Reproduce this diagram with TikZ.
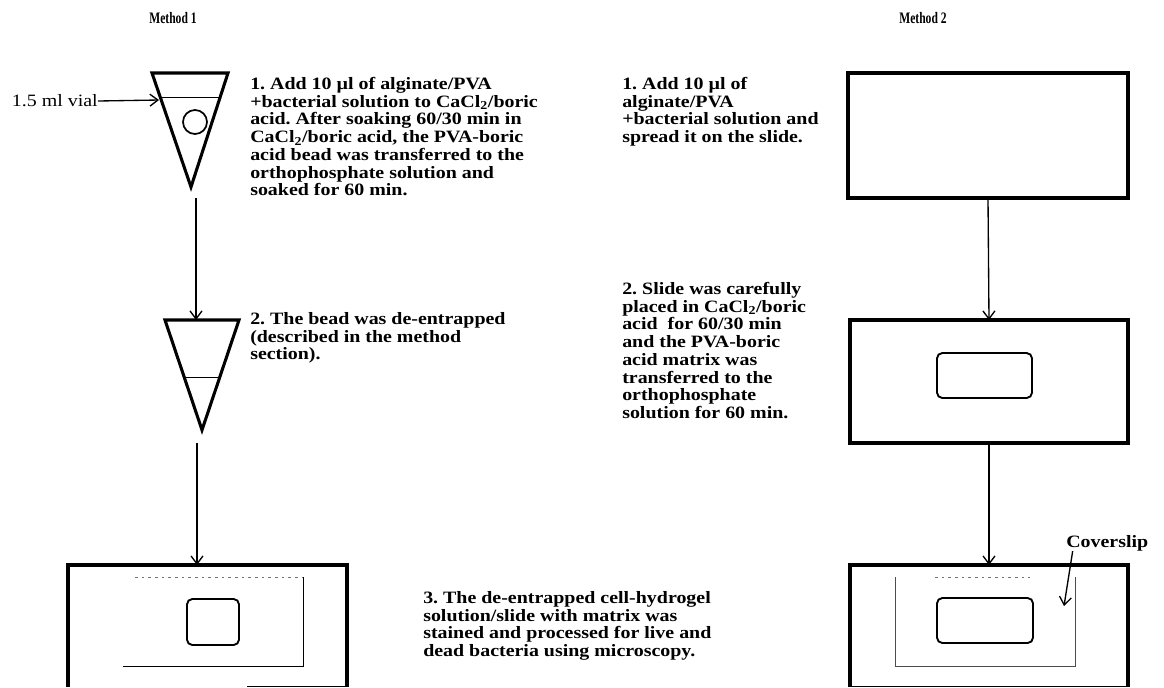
\documentclass[tikz,border=0pt]{standalone}
\usepackage{fontspec}
\setmainfont{Liberation Serif}[FakeStretch=1.15]
\usetikzlibrary{arrows.meta}
\frenchspacing
\begin{document}
\begin{tikzpicture}[x=0.75pt,y=-0.75pt,
  heavy/.style={line width=2.3pt, line join=miter},
  thinline/.style={line width=0.7pt},
  faint/.style={line width=0.6pt, black!55, dash pattern=on 2pt off 3pt},
  flow/.style={line width=1pt, -{Straight Barb[length=6pt,width=9pt,line width=1pt]}},
  slidebox/.style={draw, heavy, inner sep=0pt, outer sep=0pt},
  well/.style={draw, line width=1.4pt, rounded corners=4pt, inner sep=0pt, outer sep=0pt},
  desc/.style={anchor=north west, inner sep=0pt, align=left, font=\fontsize{13}{13.3}\selectfont\bfseries},
  plain/.style={inner sep=0pt, font=\fontsize{13}{13.3}\selectfont},
  title/.style={inner sep=0pt, font=\fontsize{12}{13}\selectfont\bfseries}
]
\useasboundingbox (0,0) rectangle (1164,687);

% titles
\node[title] (m1) at (173,18) {\scalebox{0.63}[1]{Method 1}};
\node[title] (m2) at (923,18) {\scalebox{0.63}[1]{Method 2}};

% ---------- Method 1 ----------
% vial 1
\draw[heavy] (152,73) -- (228,73) -- (191,187) -- cycle;
\draw[thinline] (160,97) -- (220,97);
\node[draw, circle, line width=1.3pt, minimum size=18pt, inner sep=0pt] (bead) at (195,122) {};
\node[plain, anchor=east] (vl) at (98,101) {1.5 ml vial};
\coordinate (vialedge) at (159,100);
\draw[flow] (vl.east) -- (vialedge);

% vial 2
\draw[heavy] (165,320) -- (239,320) -- (202,430) -- cycle;
\draw[thinline] (184,377) -- (220,377);

\coordinate (v1out) at (196,198);
\coordinate (v2in) at (196,320);
\coordinate (v2out) at (197,443);
\coordinate (s1in) at (197,565);
\draw[flow] (v1out) -- (v2in);
\draw[flow] (v2out) -- (s1in);

% slide, method 1
\draw[heavy] (68,687) -- (68,565) -- (347,565) -- (347,687);
\draw[thinline] (247,686) -- (345,686);
\draw[faint] (135,577) -- (303,577);
\draw[thinline] (303,577) -- (303,666) -- (123,666);
\node[well, minimum width=39pt, minimum height=34.5pt] (w1) at (213,622) {};

% texts method 1
\node[desc] (t1) at (250,77) {1. Add 10 µl of alginate/PVA\\
+bacterial solution to CaCl\textsubscript{2}/boric\\
acid. After soaking 60/30 min in\\
CaCl\textsubscript{2}/boric acid, the PVA-boric\\
acid bead was transferred to the\\
orthophosphate solution and\\
soaked for 60 min.};
\node[desc] (t2) at (250,312) {2. The bead was de-entrapped\\
(described in the method\\
section).};
\node[desc] (t3) at (423,591) {3. The de-entrapped cell-hydrogel\\
solution/slide with matrix was\\
stained and processed for live and\\
dead bacteria using microscopy.};

% ---------- Method 2 ----------
\node[slidebox, minimum width=210pt, minimum height=93.75pt] (b1) at (988,135.5) {};
\node[slidebox, minimum width=208.5pt, minimum height=92.25pt] (b2) at (989,381.5) {};
\node[well, minimum width=71.25pt, minimum height=33.75pt] (w2) at (984.5,375.5) {};
\draw[heavy] (850,687) -- (850,565) -- (1128,565) -- (1128,687);
\draw[thinline] (850,686) -- (1128,686);
\coordinate (b3in) at (989,565);
\draw[flow] (b1.south) -- (b2.north);
\draw[flow] (b2.south) -- (b3in);

\draw[faint] (935,577) -- (1030,577);
\draw[line width=0.6pt, black!70] (1075,577) -- (1075,666) -- (895,666) -- (895,577);
\node[well, minimum width=72pt, minimum height=33.75pt] (w3) at (985,620.5) {};

\node[desc, anchor=west] (cs) at (1066,543) {Coverslip};
\coordinate (cstip) at (1064,606);
\draw[flow] ([xshift=5pt]cs.south west) -- (cstip);

% texts method 2
\node[desc] (r1) at (622,77) {1. Add 10 µl of\\
alginate/PVA\\
+bacterial solution and\\
spread it on the slide.};
\node[desc] (r2) at (622,282) {2. Slide was carefully\\
placed in CaCl\textsubscript{2}/boric\\
acid~ for 60/30 min\\
and the PVA-boric\\
acid matrix was\\
transferred to the\\
orthophosphate\\
solution for 60 min.};
\end{tikzpicture}
\end{document}
